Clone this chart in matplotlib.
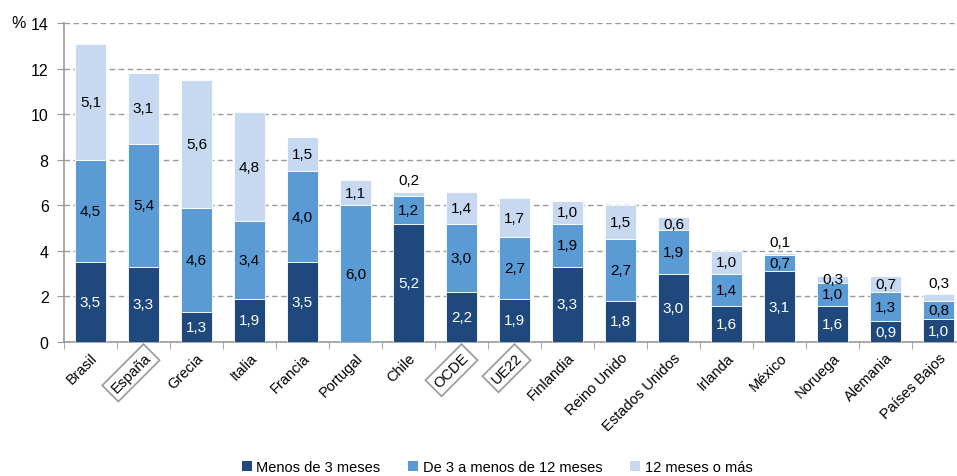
import matplotlib
matplotlib.use("Agg")
import matplotlib.pyplot as plt
import numpy as np
from matplotlib.patches import Patch

plt.rcParams['font.family'] = ['Liberation Sans', 'DejaVu Sans']

countries = ["Brasil", "España", "Grecia", "Italia", "Francia", "Portugal", "Chile",
             "OCDE", "UE22", "Finlandia", "Reino Unido", "Estados Unidos", "Irlanda",
             "México", "Noruega", "Alemania", "Países Bajos"]
menos3 = [3.5, 3.3, 1.3, 1.9, 3.5, 0.0, 5.2, 2.2, 1.9, 3.3, 1.8, 3.0, 1.6, 3.1, 1.6, 0.9, 1.0]
de3a12 = [4.5, 5.4, 4.6, 3.4, 4.0, 6.0, 1.2, 3.0, 2.7, 1.9, 2.7, 1.9, 1.4, 0.7, 1.0, 1.3, 0.8]
mas12 = [5.1, 3.1, 5.6, 4.8, 1.5, 1.1, 0.2, 1.4, 1.7, 1.0, 1.5, 0.6, 1.0, 0.1, 0.3, 0.7, 0.3]
series_names = ["Menos de 3 meses", "De 3 a menos de 12 meses", "12 meses o más"]
boxed = ["España", "OCDE", "UE22"]
yticks = [0, 2, 4, 6, 8, 10, 12, 14]

colors = ["#1f497d", "#5b9bd5", "#c6d9f1"]

fig = plt.figure(figsize=(9.57, 4.77), dpi=100)
ax = fig.add_axes([64/957, 1-343/477, 901/957, 319/477])

x = np.arange(len(countries))
w = 0.57
series = [menos3, de3a12, mas12]
bottom = np.zeros(len(countries))
for i, vals in enumerate(series):
    v = np.array(vals)
    ax.bar(x, v, w, bottom=bottom, color=colors[i], edgecolor="white", linewidth=0.6, zorder=3)
    for j in range(len(countries)):
        if v[j] <= 0:
            continue
        lab = f"{v[j]:.1f}".replace(".", ",")
        tc = "white" if i == 0 else "black"
        if i == 2 and v[j] <= 0.2 or (i == 2 and countries[j] == "Países Bajos"):
            ax.annotate(lab, (x[j], bottom[j] + v[j]), xytext=(0, 3), textcoords="offset points",
                        ha="center", va="bottom", fontsize=11, color="black", zorder=4)
        else:
            ax.text(x[j], bottom[j] + v[j] / 2, lab, ha="center", va="center",
                    fontsize=11, color=tc, zorder=4)
    bottom += v

ax.set_xlim(-0.5, len(countries) - 0.5)
ax.set_ylim(0, 14)
ax.set_yticks(yticks)
ax.set_yticklabels([str(t) for t in yticks], fontsize=11.5)
ax.yaxis.grid(True, linestyle=(0, (4, 2.5)), color="#999999", linewidth=1.0, zorder=0)
ax.set_axisbelow(True)
for s in ["top", "right"]:
    ax.spines[s].set_visible(False)
for s in ["left", "bottom"]:
    ax.spines[s].set_color("#999999")
    ax.spines[s].set_linewidth(1.2)
ax.tick_params(axis="y", length=5, color="#999999", pad=6)
ax.set_xticks(x)
labels = ax.set_xticklabels(countries, rotation=45, ha="right", rotation_mode="anchor", fontsize=10.5)
ax.tick_params(axis="x", length=0, pad=6)
ax.set_xticks(np.arange(-0.5, len(countries), 1), minor=True)
ax.tick_params(axis="x", which="minor", length=5, color="#999999", direction="out")
for t in labels:
    if t.get_text() in boxed:
        t.set_bbox(dict(facecolor="white", edgecolor="#999999", boxstyle="square,pad=0.3", linewidth=1.2))

fig.text(11/957, 1-24/477, "%", fontsize=11.5, ha="left", va="center")

handles = [Patch(facecolor=c, edgecolor="none") for c in colors]
fig.legend(handles, series_names, loc="center", bbox_to_anchor=(497/957, 1-468/477), ncol=3,
           frameon=False, fontsize=10.5, handlelength=0.7, handleheight=0.7,
           handletextpad=0.3, columnspacing=1.9)

fig.savefig("out.png", dpi=100)
